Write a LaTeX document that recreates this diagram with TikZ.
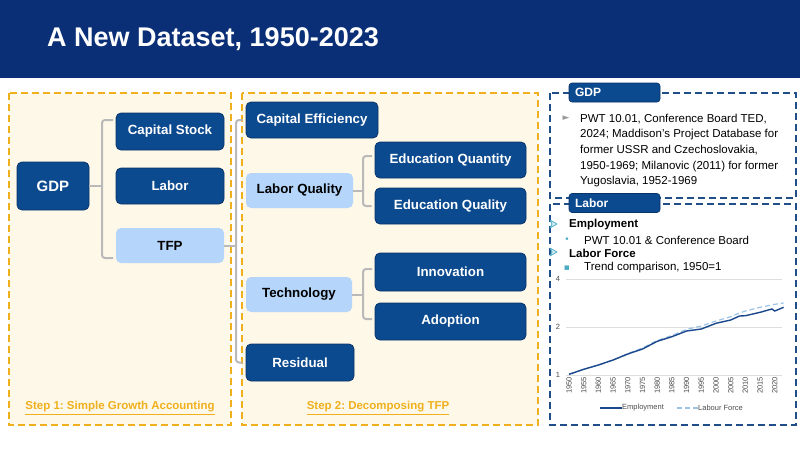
\documentclass[tikz,border=0pt]{standalone}
\usepackage{fontspec}
\setmainfont{Liberation Sans}
\newfontfamily\symfont{DejaVu Sans}
\usetikzlibrary{positioning}
\frenchspacing

\definecolor{headblue}{RGB}{10,47,118}
\definecolor{boxblue}{RGB}{12,74,143}
\definecolor{boxedge}{RGB}{8,52,105}
\definecolor{paleblue}{RGB}{181,213,250}
\definecolor{stepgold}{RGB}{240,176,30}
\definecolor{cream}{RGB}{254,248,233}
\definecolor{panelblue}{RGB}{31,78,137}
\definecolor{emplblue}{RGB}{27,72,140}
\definecolor{lfblue}{RGB}{157,195,230}
\definecolor{tickcyan}{RGB}{75,172,198}
\definecolor{bracegray}{RGB}{185,185,185}
\definecolor{gridgray}{RGB}{222,222,222}

\tikzset{
  darkbox/.style={draw=boxedge, line width=0.8pt, fill=boxblue, text=white,
    rounded corners=5pt, inner sep=0pt, font=\bfseries\fontsize{13.3}{15}\selectfont},
  lightbox/.style={fill=paleblue, text=black, rounded corners=5pt, inner sep=0pt,
    font=\bfseries\fontsize{13.3}{15}\selectfont},
  bracket/.style={draw=bracegray, line width=2pt, rounded corners=3pt},
  steppanel/.style={draw=stepgold, fill=cream, line width=1.6pt, dash pattern=on 7pt off 4pt},
  srcpanel/.style={draw=panelblue, line width=1.6pt, dash pattern=on 7pt off 4pt},
  tab/.style={draw=boxedge, line width=0.6pt, fill=boxblue, text=white, rounded corners=3pt,
    minimum height=19pt, text width=79pt, inner xsep=6pt, inner ysep=0pt, align=left,
    font=\bfseries\fontsize{12}{14}\selectfont},
  steplbl/.style={text=stepgold, font=\bfseries\fontsize{11.5}{13}\selectfont, inner sep=0pt},
  srctext/.style={inner sep=0pt, font=\fontsize{11.5}{15.7}\selectfont},
  axislbl/.style={inner sep=0pt, text=black!70, font=\fontsize{7.5}{9}\selectfont},
  empline/.style={draw=emplblue, line width=1.4pt},
  lfline/.style={draw=lfblue, line width=1.2pt, dash pattern=on 5pt off 3pt},
  arrowbul/.style={draw=tickcyan, fill=tickcyan!25, line width=0.7pt, line join=round},
}

\begin{document}
\begin{tikzpicture}[x=1pt,y=-1pt]
\useasboundingbox (0,0) rectangle (800,450);
\fill[white] (0,0) rectangle (800,450);
% header
\fill[headblue] (0,0) rectangle (800,78);
\node[anchor=base west, inner sep=0pt, text=white, font=\bfseries\fontsize{27}{30}\selectfont]
  (title) at (47,46.5) {A New Dataset, 1950-2023};

% panels
\draw[steppanel] (9,93) rectangle (231,425);
\draw[steppanel] (242,93) rectangle (538,425);
\draw[srcpanel] (550,93) rectangle (796,198);
\draw[srcpanel] (550,204) rectangle (796,425);

% step 1
\node[darkbox, minimum width=72pt, minimum height=48pt, font=\bfseries\fontsize{15}{17}\selectfont]
  (gdp) at (53,186) {GDP};
\node[darkbox, minimum width=108pt, minimum height=37pt] (capstock) at (170,131.5) {Capital Stock};
\node[darkbox, minimum width=108pt, minimum height=36pt] (labor) at (170,186) {Labor};
\node[lightbox, minimum width=108pt, minimum height=35pt] (tfp) at (170,245.5) {TFP};

% step 2
\node[darkbox, minimum width=132pt, minimum height=36pt] (capeff) at (312,120) {Capital Efficiency};
\node[lightbox, minimum width=107pt, minimum height=35pt] (labq) at (299.5,190.5) {Labor Quality};
\node[darkbox, minimum width=151pt, minimum height=36pt] (eduqn) at (450.5,160) {Education Quantity};
\node[darkbox, minimum width=151pt, minimum height=36pt] (eduql) at (450.5,206) {Education Quality};
\node[lightbox, minimum width=106pt, minimum height=35pt] (tech) at (299,294.5) {Technology};
\node[darkbox, minimum width=151pt, minimum height=38pt] (innov) at (450.5,272) {Innovation};
\node[darkbox, minimum width=151pt, minimum height=37pt] (adopt) at (450.5,321.5) {Adoption};
\node[darkbox, minimum width=108pt, minimum height=37pt] (resid) at (300,362.5) {Residual};

% brackets
\draw[bracket] (gdp.east) -- (102,186);
\draw[bracket] (113,120) -- (102,120) -- (102,258) -- (113,258);
\draw[bracket] (tfp.east) -- (236,245.5);
\draw[bracket] ([xshift=-3pt]capeff.west) -| (236,245) |- ([xshift=-3pt]resid.west);
\draw[bracket] (labq.east) -- (363,190.5);
\draw[bracket] (372,156) -- (363,156) -- (363,206) -- ([xshift=-3pt]eduql.west);
\draw[bracket] (tech.east) -- (363,294.5);
\draw[bracket] (372,269) -- (363,269) -- (363,319) -- (372,319);

\node[steplbl] (step1) at (120,408) {\underline{Step 1: Simple Growth Accounting}};
\node[steplbl] (step2) at (378,408) {\underline{Step 2: Decomposing TFP}};

% sources: GDP
\node[tab] (gdptab) at (614.5,92.5) {GDP};
\node[inner sep=0pt, text=black!40, font=\symfont\fontsize{9}{9}\selectfont] (gdpbul) at (566,118) {►};
\node[srctext, anchor=north west, align=left] (gdptext) at (580,113.5)
  {PWT 10.01, Conference Board TED,\\2024; Maddison’s Project Database for\\former USSR and Czechoslovakia,\\1950-1969; Milanovic (2011) for former\\Yugoslavia, 1952-1969};

% sources: Labor
\node[tab] (labtab) at (614.5,203) {Labor};
\foreach \ay in {224,252}
  \draw[arrowbul, shift={(553,\ay)}] (-3,-4) -- (4,0) -- (-3,4) -- (-1,0) -- cycle;
\node[srctext, anchor=west, font=\bfseries\fontsize{11.5}{13}\selectfont] (empl) at (569,225) {Employment};
\node[inner sep=0pt, text=tickcyan, font=\symfont\fontsize{9}{9}\selectfont] (bul1) at (567,240) {•};
\node[srctext, anchor=west] (empsrc) at (584,240) {PWT 10.01 \& Conference Board};
\node[srctext, anchor=west, font=\bfseries\fontsize{11.5}{13}\selectfont] (lforce) at (569,253) {Labor Force};
\node[inner sep=0pt, text=tickcyan, font=\symfont\fontsize{9}{9}\selectfont] (bul2) at (567,268) {▪};
\node[srctext, anchor=west] (trend) at (584,268) {Trend comparison, 1950=1};

% chart, one unit per year
\begin{scope}[shift={(569,0)}, x=2.94pt]
  \foreach \gy/\gl in {279/4,327/2,375/1} {
    \draw[gridgray, line width=0.8pt] (-1,\gy) -- (72.5,\gy);
    \node[axislbl, anchor=east] at (-3,\gy) {\gl};
  }
  \foreach \yr in {1950,1955,...,2020}
    \node[axislbl, rotate=90, anchor=east] at ({\yr-1950},377) {\yr};
  \draw[lfline] plot coordinates {(0,374.3) (5,369.3) (10,365) (15,360) (20,353.5) (25,348) (30,340.5)
    (35,335.5) (40,329.3) (45,326) (50,321) (55,316.7) (58,313) (60,311) (65,307.3) (70,304.3) (73,303)};
  \draw[empline] plot coordinates {(0,374.3) (5,369.3) (10,365) (15,360) (20,354) (25,349) (30,341.3)
    (35,336.7) (40,331) (45,329) (50,323.3) (55,320) (58,316) (60,315.7) (65,312.3) (69,309) (70,311) (73,307.3)};
\end{scope}

% legend
\node[axislbl, anchor=west] (legemp) at (622,408) {Employment};
\draw[empline] (legemp.west) -- ++(-22,0);
\node[axislbl, anchor=west] (leglf) at (698,408) {Labour Force};
\draw[lfline] (leglf.west) -- ++(-21,0);
\end{tikzpicture}
\end{document}
